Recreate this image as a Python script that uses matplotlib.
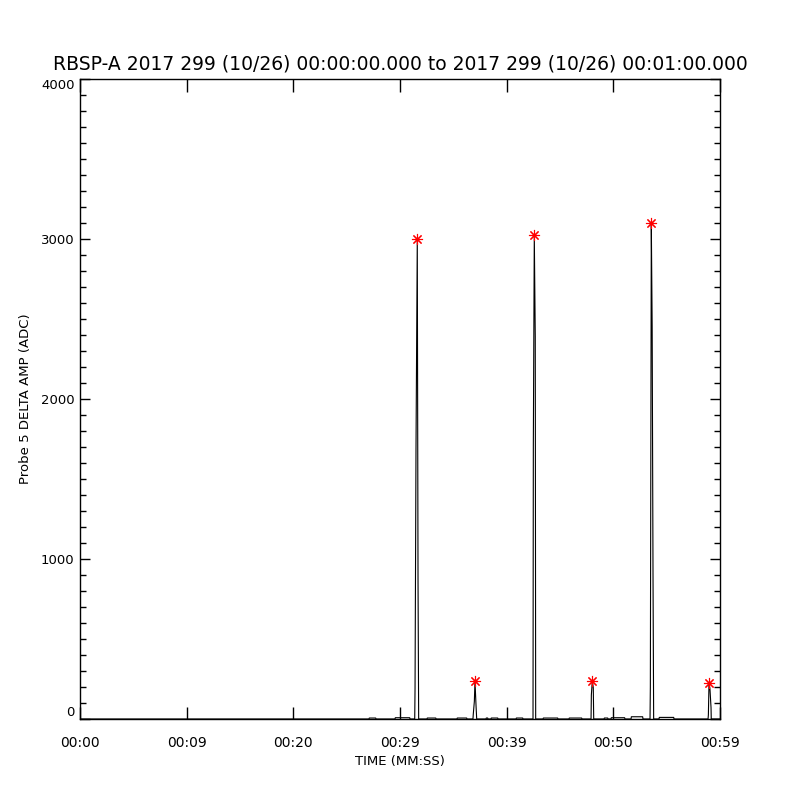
import matplotlib
matplotlib.use("Agg")
import matplotlib.pyplot as plt
from matplotlib.ticker import MultipleLocator

title = "RBSP-A 2017 299 (10/26) 00:00:00.000 to 2017 299 (10/26) 00:01:00.000"
x_tick_pos = [0, 10, 20, 30, 40, 50, 60]
x_tick_labels = ["00:00", "00:09", "00:20", "00:29", "00:39", "00:50", "00:59"]
y_tick_pos = [0, 1000, 2000, 3000, 4000]
y_tick_labels = ["0", "1000", "2000", "3000", "4000"]

time_s = [
    0.00, 27.09, 27.12, 27.72, 27.75,
    29.53, 29.56, 30.91, 30.94,
    31.38, 31.41, 31.50, 31.62, 31.69, 31.75,
    32.53, 32.56, 33.35, 33.38,
    35.34, 35.37, 36.25, 36.28,
    36.84, 36.87, 36.97, 37.03, 37.13, 37.19,
    38.06, 38.09, 38.22, 38.25,
    38.53, 38.56, 39.16, 39.19,
    40.88, 40.91, 41.50, 41.53,
    42.47, 42.50, 42.59, 42.68, 42.72,
    43.41, 43.44, 44.78, 44.81,
    45.84, 45.87, 47.03, 47.06,
    47.91, 47.94, 48.03, 48.12, 48.16,
    49.13, 49.16, 49.47, 49.50,
    49.78, 49.81, 51.06, 51.09,
    51.66, 51.69, 52.75, 52.78,
    53.44, 53.47, 53.56, 53.64, 53.72, 53.78,
    54.28, 54.31, 55.66, 55.69,
    58.88, 58.91, 58.97, 59.06, 59.16, 59.18, 60.00,
]
amp = [
    0, 0, 6, 6, 0,
    0, 8, 8, 0,
    0, 190, 1690, 3000, 870, 0,
    0, 6, 6, 0,
    0, 6, 6, 0,
    0, 30, 110, 235, 80, 0,
    0, 6, 6, 0,
    0, 6, 6, 0,
    0, 6, 6, 0,
    0, 1710, 3025, 2390, 0,
    0, 6, 6, 0,
    0, 6, 6, 0,
    0, 150, 240, 195, 0,
    0, 6, 6, 0,
    0, 8, 8, 0,
    0, 14, 14, 0,
    0, 200, 3100, 2455, 905, 0,
    0, 10, 10, 0,
    0, 25, 225, 187, 70, 0, 0,
]

peak_t = [31.62, 37.03, 42.59, 48.03, 53.56, 58.97]
peak_v = [3000, 235, 3025, 240, 3100, 225]

fig = plt.figure(figsize=(8, 8), dpi=100)
ax = fig.add_axes([0.1, 0.10125, 0.8, 0.8])
ax.plot(time_s, amp, color="black", lw=0.8)
ax.plot(peak_t, peak_v, linestyle="none", marker=(8, 2, 0), color="red",
        markersize=8, mew=0.8)

ax.set_xlim(0, 60)
ax.set_ylim(0, 4000)
ax.set_xticks(x_tick_pos)
ax.set_xticklabels(x_tick_labels)
ax.set_yticks(y_tick_pos)
ax.set_yticklabels(y_tick_labels)
ax.yaxis.set_minor_locator(MultipleLocator(100))
ax.tick_params(axis="x", which="major", direction="in", length=9, width=1,
               top=True, bottom=True, pad=12, labelsize=10)
ax.tick_params(axis="y", which="major", direction="in", length=7.5, width=1,
               left=True, right=True, pad=4, labelsize=9.5)
ax.tick_params(axis="y", which="minor", direction="in", length=4, width=1,
               left=True, right=True)
ylabs = ax.get_yticklabels()
ylabs[0].set_va("bottom")
ylabs[-1].set_va("top")
for s in ax.spines.values():
    s.set_linewidth(1)

ax.set_title(title, fontsize=13.5, pad=7)
ax.set_xlabel("TIME (MM:SS)", fontsize=9.5, labelpad=4)
ax.set_ylabel("Probe 5 DELTA AMP (ADC)", fontsize=9.5, labelpad=6)

fig.savefig("out.png", dpi=100)
